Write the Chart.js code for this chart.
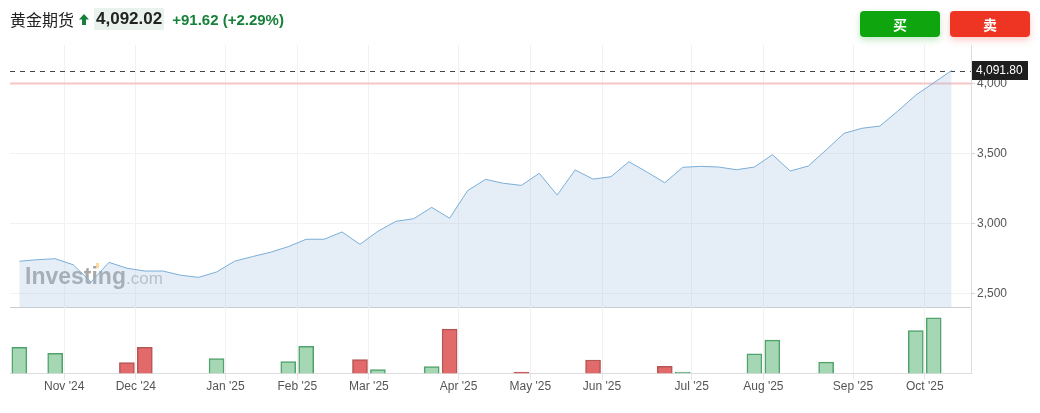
<!DOCTYPE html>
<html>
<head>
<meta charset="utf-8">
<script src="https://cdn.jsdelivr.net/npm/chart.js@4.4.1/dist/chart.umd.min.js"></script>
<style>
  body { margin: 0; width: 1040px; height: 413px; overflow: hidden; position: relative; background: #fff;
         font-family: "Liberation Sans", Arial, sans-serif; }
  #head { position: absolute; left: 10px; top: 8px; height: 22px; display: flex; align-items: center; white-space: nowrap; }
  #head .name { font-family: "Noto Sans CJK SC", sans-serif; font-size: 16px; color: #222; }
  #head svg { margin: 0 5px 0 5px; }
  #head .price { background: #e9f2ed; font-weight: bold; font-size: 17px; color: #222; padding: 2px 2px; line-height: 18px; }
  #head .chg { color: #17803a; font-weight: bold; font-size: 15px; margin-left: 8px; }
  .btn { position: absolute; top: 11px; width: 80px; height: 26px; border-radius: 4px; color: #fff; text-align: center;
         line-height: 26px; font-family: "Noto Sans CJK SC", sans-serif; font-weight: bold; font-size: 14px; }
  #buy { left: 860px; background: #0ea50e; box-shadow: 0 3px 7px rgba(14,165,14,0.25); }
  #sell { left: 950px; background: #ee3524; box-shadow: 0 3px 7px rgba(238,53,36,0.25); }
  #main { position: absolute; left: 0; top: 0; width: 1040px; height: 308px; }
  #vol { position: absolute; left: 0; top: 307px; width: 1040px; height: 87px; }
</style>
</head>
<body>
<div id="main"><canvas id="priceChart"></canvas></div>
<div id="vol"><canvas id="volChart"></canvas></div>
<div id="head">
  <span class="name">黄金期货</span>
  <svg width="10" height="11" viewBox="0 0 10 11"><polygon points="5,0 10,5.5 7,5.5 7,11 3,11 3,5.5 0,5.5" fill="#17803a"/></svg>
  <span class="price">4,092.02</span>
  <span class="chg">+91.62 (+2.29%)</span>
</div>
<div class="btn" id="buy">买</div>
<div class="btn" id="sell">卖</div>

<script>
// weekly closes, Oct '24 -> Oct '25
var closes = [2729, 2740, 2747, 2704, 2581, 2721, 2679, 2659, 2659, 2629, 2614, 2652, 2729, 2762,
  2793, 2833, 2886, 2886, 2938, 2850, 2943, 3014, 3033, 3114, 3036, 3233, 3314, 3286, 3271, 3357,
  3202, 3381, 3316, 3333, 3440, 3367, 3290, 3400, 3407, 3402, 3383, 3402, 3490, 3374, 3409, 3524,
  3643, 3679, 3695, 3802, 3916, 4004, 4091.80];
// weekly volume (relative units)
var volumes = [26, 0, 20, 0, 0, 0, 11, 26, 0, 0, 0, 15, 0, 0, 0, 12, 27, 0, 0, 14, 4, 0, 0, 7, 44,
  0, 0, 0, 1.4, 0, 0, 0, 13.5, 0, 0, 0, 7.3, 1.4, 0, 0, 0, 19.7, 33.2, 0, 0, 11.4, 0, 0, 0, 0,
  42.7, 55.3, 0];
var monthTicks = [2.5, 6.5, 11.5, 15.5, 19.5, 24.5, 28.5, 32.5, 37.5, 41.5, 46.5, 50.5];
var monthLabels = ["Nov '24", "Dec '24", "Jan '25", "Feb '25", "Mar '25", "Apr '25", "May '25",
  "Jun '25", "Jul '25", "Aug '25", "Sep '25", "Oct '25"];
var priceTicks = [2500, 3000, 3500, 4000];
var lastPrice = 4091.80;
var prevClose = 4000.40;

var font = '"Liberation Sans", Arial, sans-serif';
var xMin = -0.52, xMax = 53.08;

function fmt(v) {
  return String(v).replace(/\B(?=(\d{3})+(?!\d))/g, ',');
}
function setTicks(list) {
  return function(scale) {
    scale.ticks = list.map(function(v) { return { value: v }; });
  };
}
function sideAxis(s) {
  s.width = 69;
  s.paddingTop = 0;
  s.paddingBottom = 0;
}

var overlay = {
  id: 'overlay',
  beforeDatasetsDraw: function(chart) {
    var ctx = chart.ctx, area = chart.chartArea, y = chart.scales.y;
    ctx.save();
    // watermark
    ctx.fillStyle = 'rgba(110,110,110,0.6)';
    ctx.font = 'bold 23px ' + font;
    ctx.textBaseline = 'alphabetic';
    ctx.fillText('Investing', 25, 284);
    var w = ctx.measureText('Investing').width;
    ctx.fillStyle = 'rgba(130,130,130,0.5)';
    ctx.font = '17px ' + font;
    ctx.fillText('.com', 25 + w, 284);
    ctx.fillStyle = 'rgba(250,185,80,0.55)';
    ctx.fillRect(96, 263, 3, 5);
    // previous close
    var py = Math.round(y.getPixelForValue(prevClose)) + 0.5;
    ctx.strokeStyle = '#f7c6c6';
    ctx.lineWidth = 2;
    ctx.beginPath(); ctx.moveTo(area.left, py); ctx.lineTo(area.right, py); ctx.stroke();
    // last price
    var ly = Math.round(y.getPixelForValue(lastPrice)) + 0.5;
    ctx.strokeStyle = '#444';
    ctx.lineWidth = 1;
    ctx.setLineDash([5, 5]);
    ctx.beginPath(); ctx.moveTo(area.left, ly); ctx.lineTo(area.right, ly); ctx.stroke();
    ctx.restore();
  },
  afterDraw: function(chart) {
    var ctx = chart.ctx, area = chart.chartArea, y = chart.scales.y;
    var ly = y.getPixelForValue(lastPrice);
    ctx.save();
    ctx.fillStyle = '#1e1e1e';
    ctx.fillRect(area.right + 1, Math.round(ly) - 10, 56, 19);
    ctx.fillStyle = '#fff';
    ctx.font = '12px ' + font;
    ctx.textBaseline = 'middle';
    ctx.fillText(fmt(lastPrice.toFixed(2)), area.right + 5, Math.round(ly));
    ctx.restore();
  }
};

new Chart(document.getElementById('priceChart'), {
  type: 'line',
  data: {
    datasets: [{
      data: closes.map(function(v, i) { return { x: i, y: v }; }),
      borderColor: '#7aaed8',
      borderWidth: 1,
      backgroundColor: 'rgba(160,192,225,0.28)',
      fill: 'start',
      pointRadius: 0,
      tension: 0
    }]
  },
  options: {
    responsive: true,
    maintainAspectRatio: false,
    animation: false,
    layout: { padding: { left: 10, top: 45, right: 0, bottom: 1 } },
    plugins: { legend: { display: false }, tooltip: { enabled: false } },
    scales: {
      x: {
        type: 'linear', min: xMin, max: xMax,
        afterBuildTicks: setTicks(monthTicks),
        afterFit: function(s) { s.height = 0; },
        ticks: { display: false },
        grid: { color: '#f1f1f1', drawTicks: false },
        border: { color: '#c9ced4' }
      },
      y: {
        position: 'right', min: 2402, max: 4274,
        afterBuildTicks: setTicks(priceTicks),
        afterFit: sideAxis,
        ticks: { color: '#555', font: { size: 12, family: font }, padding: 2, callback: function(v) { return fmt(v); } },
        grid: { color: '#f2f2f2', tickLength: 4, tickColor: '#d6d6d6' },
        border: { color: '#dcdcdc' }
      }
    }
  },
  plugins: [overlay]
});

var volData = [], volFill = [], volEdge = [];
volumes.forEach(function(v, i) {
  if (!v) return;
  var up = i === 0 || closes[i] >= closes[i - 1];
  volData.push({ x: i, y: v });
  volFill.push(up ? '#a6d7b5' : '#e26a6a');
  volEdge.push(up ? '#4fa36a' : '#b65555');
});

new Chart(document.getElementById('volChart'), {
  type: 'bar',
  data: {
    datasets: [{
      data: volData,
      backgroundColor: volFill,
      borderColor: volEdge,
      borderWidth: 1.5,
      barThickness: 15
    }]
  },
  options: {
    responsive: true,
    maintainAspectRatio: false,
    animation: false,
    layout: { padding: { left: 10, top: 0, right: 0, bottom: 0 } },
    plugins: { legend: { display: false }, tooltip: { enabled: false } },
    scales: {
      x: {
        type: 'linear', min: xMin, max: xMax, offset: false,
        afterBuildTicks: setTicks(monthTicks),
        ticks: { autoSkip: false, maxRotation: 0, color: '#555', font: { size: 12, family: font }, padding: 0,
                 callback: function(v, i) { return monthLabels[i]; } },
        grid: { color: '#f1f1f1', tickLength: 6, tickColor: '#e6e6e6', offset: false },
        border: { color: '#dddddd' }
      },
      y: {
        position: 'right', min: 0, max: 66,
        afterFit: sideAxis,
        ticks: { display: false },
        grid: { display: false, drawTicks: false },
        border: { color: '#dddddd' }
      }
    }
  }
});
</script>
</body>
</html>
